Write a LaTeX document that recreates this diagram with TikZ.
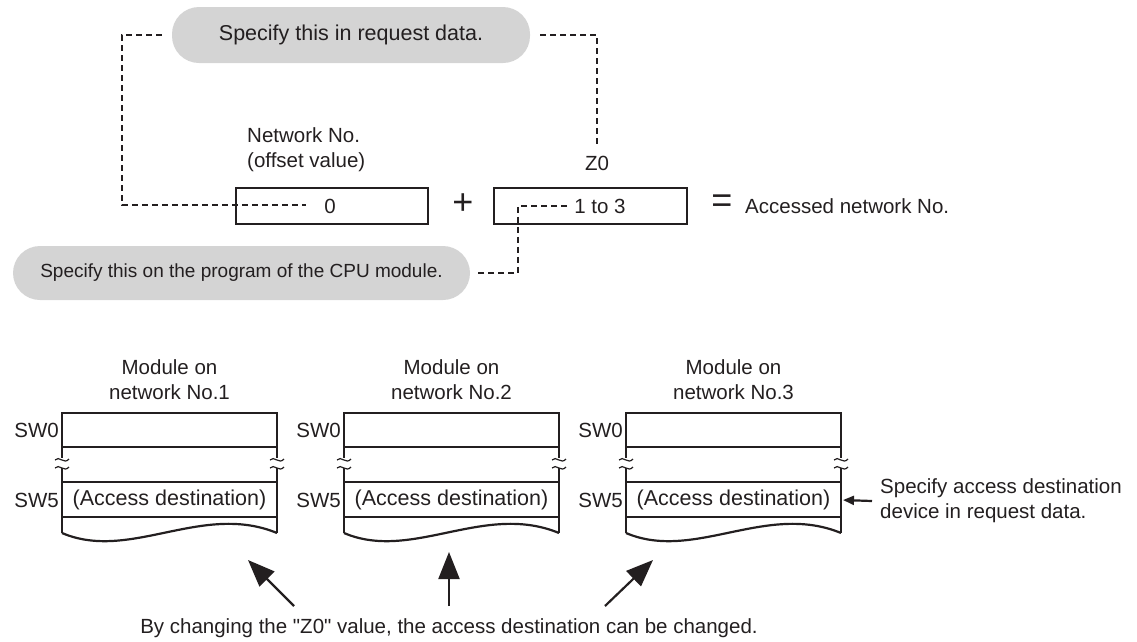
\documentclass[tikz,border=0pt]{standalone}
\usepackage{fontspec}
\setmainfont{Liberation Sans}
\usetikzlibrary{arrows.meta,calc}
\definecolor{pillgray}{RGB}{212,212,212}
\definecolor{ink}{RGB}{35,31,32}
\font\qf="Liberation Sans" at 20.5pt
\begin{document}
\begin{tikzpicture}[x=1pt,y=-1pt,
  font=\fontsize{20.5}{25}\selectfont,
  every node/.style={text=ink},
  txt/.style={inner sep=0pt},
  pill/.style={fill=pillgray, rounded corners=27pt, inner sep=0pt},
  dsh/.style={line width=2.6pt, dash pattern=on 6pt off 4pt, draw=ink},
  bx/.style={draw=ink, line width=2.5pt, inner sep=0pt},
  mline/.style={draw=ink, line width=2.2pt},
  brk/.style={draw=ink, line width=1.2pt},
  bigarrow/.style={draw=ink, line width=2.2pt, -{Triangle[length=27pt,width=21pt]}},
  smallarrow/.style={draw=ink, line width=2.2pt, -{Triangle[length=11pt,width=9pt]}}]
\useasboundingbox (0,0) rectangle (1137,641);

% top pill and its connectors
\node[pill, minimum width=358pt, minimum height=56pt, font=\fontsize{21.5}{25}\selectfont] (p1) at (351,35) {Specify this in request data.};
\node[txt, anchor=west, align=left] (nw) at (247,150) {Network No.\\(offset value)};
\node[txt] (z0) at (597,163) {Z0};

\node[bx, minimum width=192pt, minimum height=36pt] (b0) at (332,206) {};
\node[txt] (t0) at (330,206) {0};
\node[txt, font=\fontsize{36}{36}\selectfont] (plus) at (463,204) {+};
\node[bx, minimum width=193pt, minimum height=36pt] (b2) at (590.5,206) {};
\node[txt] (t13) at (600,206) {1 to 3};
\node[txt, font=\fontsize{36}{36}\selectfont] (eq) at (722,204) {=};
\node[txt, anchor=west] (acc) at (745,206) {Accessed network No.};

\coordinate (d0) at (306,205);
\coordinate (k2) at (518,206);
\draw[dsh] ([xshift=-10pt]p1.west) -- ++(-40,0) |- (d0);
\draw[dsh] ([xshift=10pt]p1.east) -| ([yshift=12pt]z0.north);

\node[pill, minimum width=457pt, minimum height=54pt, font=\fontsize{19}{25}\selectfont] (p2) at (241.5,273) {Specify this on the program of the CPU module.};
\draw[dsh] ([xshift=-7pt]t13.west) -- (k2) |- ([xshift=8pt]p2.east);

% module boxes
\foreach \x/\n in {62/1,344/2,626/3}{
  \coordinate (m\n) at (\x,413);
  \draw[mline] (\x,533) -- (\x,413) -- (\x+215,413) -- (\x+215,533);
  \draw[mline] (\x,533) .. controls (\x+68,562) and (\x+140,502) .. (\x+215,533);
  \foreach \yy in {447,482,517} \draw[mline] (\x,\yy) -- (\x+215,\yy);
  \foreach \bx in {\x,\x+215}{
    \fill[white] (\bx-3,458) rectangle (\bx+3,468);
    \draw[brk] (\bx-7,460) .. controls (\bx-3,455) and (\bx+2,465) .. (\bx+7,459);
    \draw[brk] (\bx-7,468) .. controls (\bx-3,463) and (\bx+2,473) .. (\bx+7,467);
  }
  \node[txt, align=center] (lab\n) at (\x+107.5,380) {Module on\\network No.\n};
  \node[txt, anchor=east] (sw0\n) at (\x-3,430) {SW0};
  \node[txt, anchor=east] (sw5\n) at (\x-3,500) {SW5};
  \node[txt, font=\fontsize{21.5}{25}\selectfont] (ad\n) at (\x+107.5,500) {(Access destination)};
}
\coordinate (r3) at (843,500);
\node[txt, anchor=west, align=left] (spec) at (880,501) {Specify access destination\\device in request data.};
\draw[smallarrow] ([xshift=-8pt]spec.west) -- (r3);

% bottom arrows and text
\node[txt] (bt) at (449,628) {By changing the {\qf\char34}Z0{\qf\char34} value, the access destination can be changed.};
\coordinate (a1s) at (294,606); \coordinate (a1e) at (248,560);
\coordinate (a2s) at (449,606); \coordinate (a2e) at (449,552);
\coordinate (a3s) at (605,606); \coordinate (a3e) at (653,560);
\draw[bigarrow] (a1s) -- (a1e);
\draw[bigarrow] (a2s) -- (a2e);
\draw[bigarrow] (a3s) -- (a3e);
\end{tikzpicture}
\end{document}
